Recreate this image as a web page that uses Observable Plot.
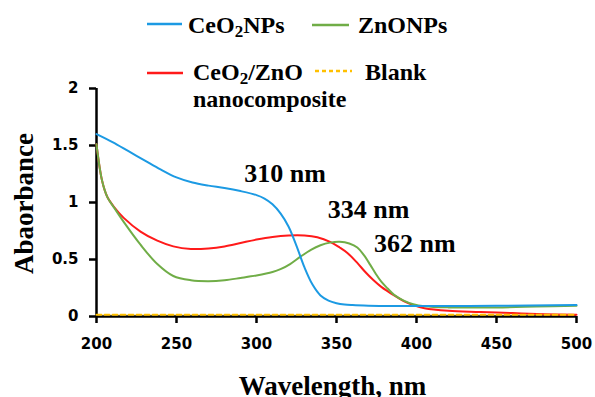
<!DOCTYPE html>
<html>
<head>
<meta charset="utf-8">
<script src="https://cdn.jsdelivr.net/npm/d3@7"></script>
<script src="https://cdn.jsdelivr.net/npm/@observablehq/plot@0.6"></script>
<style>
  html, body { margin: 0; padding: 0; background: #fff; }
  #wrap { position: relative; width: 595px; height: 397px; overflow: hidden; }
  #legend { position: absolute; left: 0; top: 0; pointer-events: none; }
  #legend text { font-family: "Liberation Serif", "Times New Roman", serif; font-weight: bold; font-size: 24px; fill: #000; }
</style>
</head>
<body>
<div id="wrap"></div>
<script>
// ---- data ----
const xTicks = [200, 250, 300, 350, 400, 450, 500];
const yTicks = [0, 0.5, 1, 1.5, 2];

const ceoNm  = [200, 210, 220, 230, 240, 250, 260, 270, 280, 290, 300, 305, 310, 315, 320, 325, 330, 335, 340, 345, 350, 355, 360, 370, 380, 400, 450, 500];
const ceoAbs = [1.60, 1.53, 1.45, 1.37, 1.29, 1.22, 1.175, 1.148, 1.127, 1.10, 1.065, 1.035, 0.985, 0.905, 0.79, 0.62, 0.43, 0.28, 0.185, 0.14, 0.117, 0.105, 0.10, 0.095, 0.093, 0.092, 0.094, 0.10];

const compNm  = [200, 203.5, 206.7, 211, 217, 227.5, 238, 248, 259, 270, 280, 290, 300, 310, 320, 330, 338, 346, 352, 357, 363, 368, 373, 378, 386, 392, 398, 405, 420, 440, 460, 480, 500];
const compAbs = [1.51, 1.19, 1.05, 0.96, 0.865, 0.745, 0.665, 0.615, 0.592, 0.597, 0.615, 0.645, 0.675, 0.698, 0.71, 0.71, 0.695, 0.655, 0.605, 0.555, 0.47, 0.39, 0.32, 0.26, 0.185, 0.135, 0.10, 0.072, 0.05, 0.04, 0.03, 0.02, 0.015];

const znoNm  = [200, 203.5, 206.7, 211, 217, 227.5, 238, 248, 259, 270, 280, 290, 300, 310, 315, 321, 327.5, 334, 340, 346, 352, 358, 363, 367, 371, 374.5, 378, 382, 386, 392, 398, 405, 420, 450, 475, 500];
const znoAbs = [1.51, 1.19, 1.05, 0.955, 0.83, 0.63, 0.46, 0.355, 0.318, 0.31, 0.318, 0.338, 0.36, 0.39, 0.415, 0.46, 0.525, 0.585, 0.625, 0.648, 0.655, 0.64, 0.605, 0.54, 0.455, 0.375, 0.305, 0.245, 0.19, 0.14, 0.108, 0.09, 0.08, 0.08, 0.087, 0.095];

const blankNm  = [200, 500];
const blankAbs = [0.015, 0.015];

const peakLabels = ["310 nm", "334 nm", "362 nm"];
const peakLabelX = [317.8, 370, 399];
const peakLabelY = [1.184, 0.86, 0.57];

const seriesNames  = ["CeO2NPs", "ZnONPs", "CeO2/ZnO nanocomposite", "Blank"];
const seriesColors = ["#1c9ae3", "#70ad47", "#ff1a1a", "#ffc000"];

// ---- build tables ----
const toRows = (xs, ys) => xs.map((x, i) => ({x, y: ys[i]}));
const ceo = toRows(ceoNm, ceoAbs);
const zno = toRows(znoNm, znoAbs);
const comp = toRows(compNm, compAbs);
const blank = toRows(blankNm, blankAbs);
const peaks = peakLabels.map((t, i) => ({t, x: peakLabelX[i], y: peakLabelY[i]}));

const serif = "Liberation Serif, Times New Roman, serif";

const chart = Plot.plot({
  width: 595,
  height: 397,
  marginLeft: 96,
  marginRight: 19,
  marginTop: 88,
  marginBottom: 81,
  style: {fontFamily: "DejaVu Sans, Verdana, sans-serif", fontSize: "15px", fontWeight: "bold", color: "#000", background: "#fff", overflow: "visible"},
  x: {domain: [200, 500]},
  y: {domain: [0, 2]},
  marks: [
    Plot.axisX(xTicks, {tickSize: 7, tickPadding: 15, stroke: "#000", strokeWidth: 2.5, strokeOpacity: 1, label: null, fill: "#000"}),
    Plot.axisY(yTicks, {tickSize: 7, tickPadding: 11, stroke: "#000", strokeWidth: 2.5, strokeOpacity: 1, label: null, tickFormat: d => String(d), fill: "#000"}),
    Plot.ruleY([0], {stroke: "#000", strokeWidth: 2.5}),
    Plot.ruleX([200], {y1: 0, y2: 2, stroke: "#000", strokeWidth: 2.5}),
    Plot.line(comp, {x: "x", y: "y", stroke: seriesColors[2], strokeWidth: 2, curve: "catmull-rom"}),
    Plot.line(zno, {x: "x", y: "y", stroke: seriesColors[1], strokeWidth: 2, curve: "catmull-rom"}),
    Plot.line(ceo, {x: "x", y: "y", stroke: seriesColors[0], strokeWidth: 2, curve: "catmull-rom"}),
    Plot.line(blank, {x: "x", y: "y", stroke: seriesColors[3], strokeWidth: 2, strokeDasharray: "5,3"}),
    Plot.text(peaks, {x: "x", y: "y", text: "t", textAnchor: "middle", lineAnchor: "bottom", fontFamily: serif, fontWeight: "bold", fontSize: 26, fill: "#000"}),
    Plot.text(["Wavelength, nm"], {frameAnchor: "bottom", dx: -4, dy: 78, lineAnchor: "bottom", textAnchor: "middle", fontFamily: serif, fontWeight: "bold", fontSize: 27, fill: "#000"}),
    Plot.text(["Abaorbance"], {frameAnchor: "left", dx: -64, dy: 1, rotate: -90, lineAnchor: "bottom", textAnchor: "middle", fontFamily: serif, fontWeight: "bold", fontSize: 27, fill: "#000"})
  ]
});

const wrap = document.getElementById("wrap");
wrap.appendChild(chart);

// ---- legend overlay ----
const lg = d3.select(wrap).append("svg")
  .attr("id", "legend").attr("width", 595).attr("height", 125);

const items = [
  {x1: 147, x2: 182, y: 24, color: seriesColors[0], dash: null, tx: 188, ty: 33, parts: [["CeO", 0], ["2", 1], ["NPs", 0]]},
  {x1: 312, x2: 349, y: 25, color: seriesColors[1], dash: null, tx: 358, ty: 33, parts: [["ZnONPs", 0]]},
  {x1: 147, x2: 183, y: 73, color: seriesColors[2], dash: null, tx: 193, ty: 80, parts: [["CeO", 0], ["2", 1], ["/ZnO", 0]], second: "nanocomposite"},
  {x1: 315, x2: 352, y: 71, color: seriesColors[3], dash: "4,3", tx: 365, ty: 80, parts: [["Blank", 0]]}
];
items.forEach(it => {
  lg.append("line").attr("x1", it.x1).attr("x2", it.x2).attr("y1", it.y).attr("y2", it.y)
    .attr("stroke", it.color).attr("stroke-width", 2.5).attr("stroke-dasharray", it.dash);
  const t = lg.append("text").attr("x", it.tx).attr("y", it.ty);
  let prevSub = 0;
  it.parts.forEach(([s, sub]) => {
    const ts = t.append("tspan").text(s);
    if (sub && !prevSub) ts.attr("dy", 4).attr("font-size", 17);
    else if (!sub && prevSub) ts.attr("dy", -4);
    prevSub = sub;
  });
  if (it.second) lg.append("text").attr("x", it.tx).attr("y", it.ty + 27).text(it.second);
});
</script>
</body>
</html>
